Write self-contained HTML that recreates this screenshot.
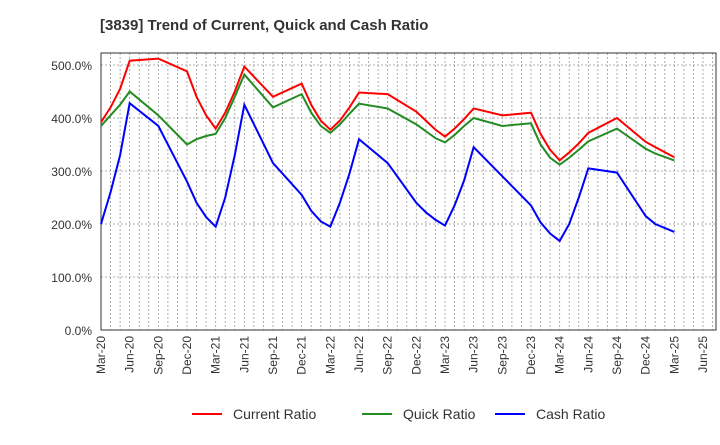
<!DOCTYPE html>
<html><head><meta charset="utf-8"><style>
body{margin:0;background:#fff;font-family:"Liberation Sans",sans-serif}
svg text{font-family:"Liberation Sans",sans-serif}
</style></head><body>
<svg id="c" width="720" height="440" xmlns="http://www.w3.org/2000/svg">
<text x="100" y="30" font-size="15" font-weight="bold" fill="#333">[3839]  Trend of Current, Quick and Cash Ratio</text>
<g id="grid"></g><g id="axes"></g><g id="series"></g>
<g>
<line x1="192" y1="414" x2="222" y2="414" stroke="#f00" stroke-width="2"/><text x="233" y="419" font-size="14" fill="#333">Current Ratio</text>
<line x1="362" y1="414" x2="392" y2="414" stroke="#228b22" stroke-width="2"/><text x="403" y="419" font-size="14" fill="#333">Quick Ratio</text>
<line x1="495" y1="414" x2="525" y2="414" stroke="#00f" stroke-width="2"/><text x="536" y="419" font-size="14" fill="#333">Cash Ratio</text>
</g>
</svg>
<script>
const xTickLabels=["Mar-20","Jun-20","Sep-20","Dec-20","Mar-21","Jun-21","Sep-21","Dec-21","Mar-22","Jun-22","Sep-22","Dec-22","Mar-23","Jun-23","Sep-23","Dec-23","Mar-24","Jun-24","Sep-24","Dec-24","Mar-25","Jun-25"];
const yTicks=[0,100,200,300,400,500];
const months=[0,1,2,3,6,9,10,11,12,13,14,15,18,21,22,23,24,25,26,27,30,33,34,35,36,37,38,39,42,45,46,47,48,49,50,51,54,57,58,60];
const currentRatio=[392,420,455,508,512,488,440,405,380,410,450,497,440,465,425,395,378,395,420,448,445,412,395,378,365,380,398,418,405,410,370,340,320,335,352,372,400,355,345,326];
const quickRatio=[385,405,425,450,405,350,360,366,370,400,440,482,420,445,410,385,372,388,408,427,418,388,375,362,354,368,385,400,385,390,350,325,312,325,340,356,380,342,333,320];
const cashRatio=[200,260,330,428,385,280,240,213,195,250,330,425,315,255,225,205,195,240,295,360,315,240,222,208,197,235,282,345,290,235,203,182,168,200,250,305,297,215,200,185];
const L=101,R=716,T=53,B=330,X0=101,XS=(703-101)/63;
const x=m=>X0+m*XS, y=v=>B-v*(B-65)/500;
const NS="http://www.w3.org/2000/svg";
function mk(p,t,a){const e=document.createElementNS(NS,t);for(const k in a)e.setAttribute(k,a[k]);p.appendChild(e);return e;}
const g=document.getElementById('grid'),ax=document.getElementById('axes'),s=document.getElementById('series');
for(let m=1;m<=64;m++){const xx=x(m);if(xx>=R)break;
const l=mk(g,'line',{x1:xx,x2:xx,y1:T,y2:B,stroke:'#999','stroke-dasharray':'2,2','stroke-width':0.8});

}
yTicks.forEach(v=>{
const l=mk(g,'line',{x1:L,x2:R,y1:y(v),y2:y(v),stroke:'#999','stroke-dasharray':'2,2','stroke-width':0.8});


const t=mk(ax,'text',{x:92,y:y(v)+5,'text-anchor':'end','font-size':12,fill:'#333'});t.textContent=v.toFixed(1)+'%';

});
const fr=mk(ax,'rect',{x:L,y:T,width:R-L,height:B-T,fill:'none',stroke:'#333','stroke-width':1});


xTickLabels.forEach((lb,i)=>{const xx=x(i*3);
const t=mk(ax,'text',{transform:`translate(${xx+4},336) rotate(-90)`,'text-anchor':'end','font-size':12,fill:'#333'});t.textContent=lb;

});
[[currentRatio,'#f00','current-ratio-line'],[quickRatio,'#228b22','quick-ratio-line'],[cashRatio,'#00f','cash-ratio-line']].forEach(([d,c,n])=>{
const p=mk(s,'polyline',{points:d.map((v,i)=>x(months[i])+','+y(v)).join(' '),fill:'none',stroke:c,'stroke-width':2});

});
</script>
</body></html>
